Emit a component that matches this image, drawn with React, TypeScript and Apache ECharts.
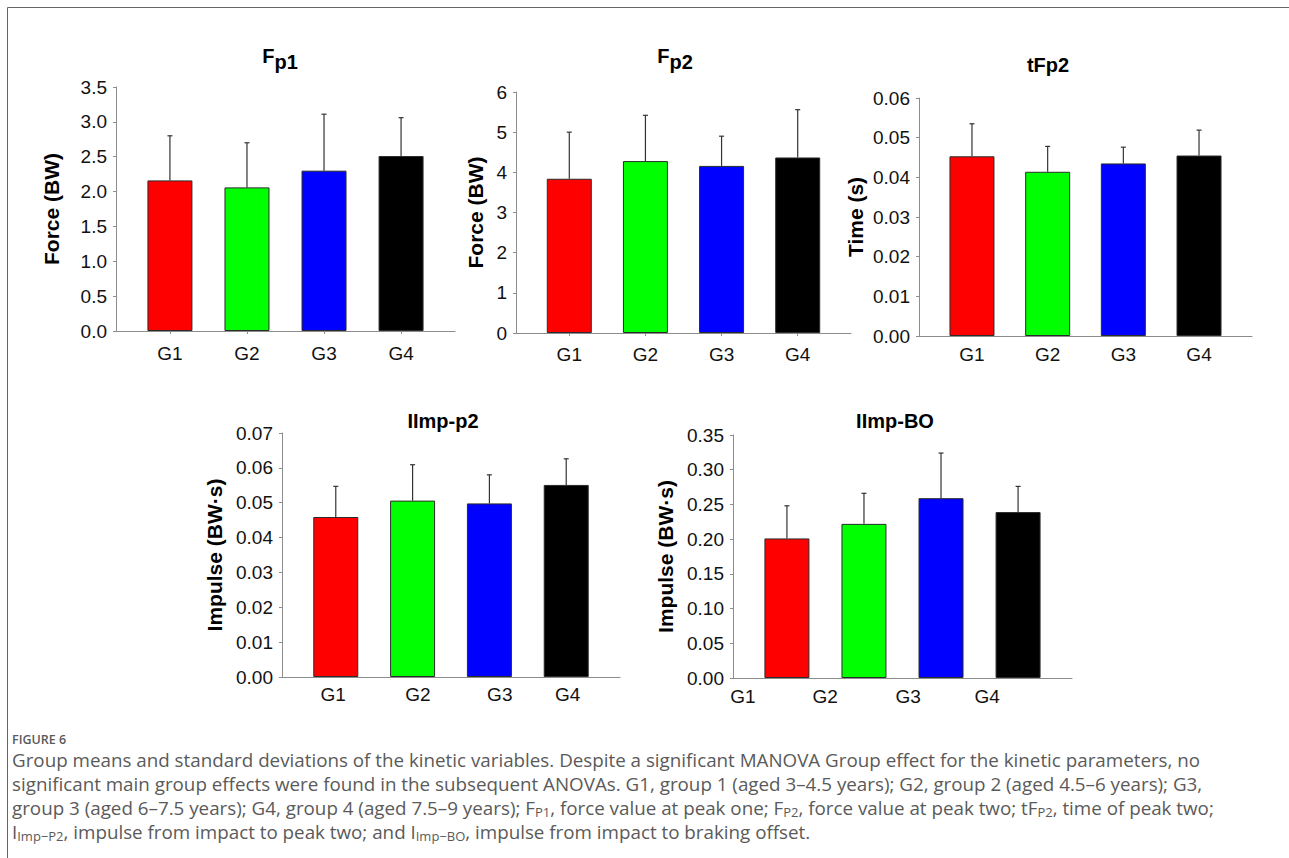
import React, { useEffect, useRef } from "react";
import * as echarts from "echarts";

// ---------- data ----------
const groups = ["G1", "G2", "G3", "G4"];
const groupX = [1, 2, 3, 4];
const barColors = ["#ff0000", "#00ff00", "#0000ff", "#000000"];

const fp1Mean = [2.16, 2.06, 2.3, 2.51];
const fp1Sd = [0.64, 0.64, 0.81, 0.55];

const fp2Mean = [3.84, 4.28, 4.16, 4.37];
const fp2Sd = [1.16, 1.14, 0.74, 1.19];

const tfp2Mean = [0.0453, 0.0414, 0.0435, 0.0455];
const tfp2Sd = [0.0082, 0.0064, 0.0041, 0.0064];

const impP2Mean = [0.0459, 0.0506, 0.0498, 0.0551];
const impP2Sd = [0.0088, 0.0103, 0.0082, 0.0075];

const impBOMean = [0.201, 0.222, 0.259, 0.239];
const impBOSd = [0.047, 0.044, 0.065, 0.037];

// label anchor values along the x axis (as printed in the figure)
const impP2LabelX = [0.966, 2.07, 3.135, 4.018];
const impBOLabelX = [0.43, 1.495, 2.573, 3.6];

const captionHead = "FIGURE 6";

// ---------- layout ----------
const FONT = "Liberation Sans, Arial, sans-serif";
const CAP_FONT = "Open Sans, sans-serif";

const panels = [
  {
    titleRich: "{a|F}{b|p1}", titleX: 280, titleY: 57,
    yName: "Force (BW)", mean: fp1Mean, sd: fp1Sd, yMax: 3.5, yStep: 0.5, dec: 1,
    grid: { left: 116, top: 87, width: 339, height: 244 }, nameGap: 54, labelMargin: 13,
    labelX: groupX, xTicks: true,
  },
  {
    titleRich: "{a|F}{b|p2}", titleX: 675, titleY: 57,
    yName: "Force (BW)", mean: fp2Mean, sd: fp2Sd, yMax: 6, yStep: 1, dec: 0,
    grid: { left: 516, top: 92, width: 335, height: 241 }, nameGap: 30, labelMargin: 12,
    labelX: groupX, xTicks: true,
  },
  {
    titleRich: "{c|tFp2}", titleX: 1048, titleY: 65,
    yName: "Time (s)", mean: tfp2Mean, sd: tfp2Sd, yMax: 0.06, yStep: 0.01, dec: 2,
    grid: { left: 919, top: 98, width: 333, height: 238 }, nameGap: 53, labelMargin: 9,
    labelX: groupX, xTicks: false,
  },
  {
    titleRich: "{c|IImp-p2}", titleX: 443, titleY: 421,
    yName: "Impulse (BW·s)", mean: impP2Mean, sd: impP2Sd, yMax: 0.07, yStep: 0.01, dec: 2,
    grid: { left: 282, top: 433, width: 338, height: 244 }, nameGap: 57, labelMargin: 8,
    labelX: impP2LabelX, xTicks: false,
  },
  {
    titleRich: "{c|IImp-BO}", titleX: 895, titleY: 421,
    yName: "Impulse (BW·s)", mean: impBOMean, sd: impBOSd, yMax: 0.35, yStep: 0.05, dec: 2,
    grid: { left: 733, top: 435, width: 339, height: 243 }, nameGap: 57, labelMargin: 9,
    labelX: impBOLabelX, xTicks: false,
  },
];

const captionLines = [
  "{n|Group means and standard deviations of the kinetic variables. Despite a significant MANOVA Group effect for the kinetic parameters, no}",
  "{n|significant main group effects were found in the subsequent ANOVAs. G1, group 1 (aged 3–4.5 years); G2, group 2 (aged 4.5–6 years); G3,}",
  "{n|group 3 (aged 6–7.5 years); G4, group 4 (aged 7.5–9 years); F}{s|P1}{n|, force value at peak one; F}{s|P2}{n|, force value at peak two; tF}{s|P2}{n|, time of peak two;}",
  "{n|I}{s|Imp−P2}{n|, impulse from impact to peak two; and I}{s|Imp−BO}{n|, impulse from impact to braking offset.}",
];

function buildOption() {
  const grids: any[] = [];
  const xAxes: any[] = [];
  const yAxes: any[] = [];
  const series: any[] = [];
  const graphics: any[] = [];

  panels.forEach((p, i) => {
    grids.push({ ...p.grid, containLabel: false });
    const labelPos = p.labelX;
    xAxes.push({
      type: "value",
      gridIndex: i,
      min: 0.3,
      max: 4.7,
      splitLine: { show: false },
      axisLine: { show: true, lineStyle: { color: "#8c8c8c", width: 1 } },
      axisTick: {
        show: p.xTicks,
        customValues: groupX,
        length: 3,
        lineStyle: { color: "#8c8c8c" },
      },
      axisLabel: {
        customValues: labelPos,
        margin: p.labelMargin,
        fontFamily: FONT,
        fontSize: 19,
        color: "#111",
        formatter: (v: number) => {
          let best = 0;
          let d = Infinity;
          labelPos.forEach((q, k) => {
            if (Math.abs(q - v) < d) {
              d = Math.abs(q - v);
              best = k;
            }
          });
          return groups[best];
        },
      },
    });
    yAxes.push({
      type: "value",
      gridIndex: i,
      min: 0,
      max: p.yMax,
      interval: p.yStep,
      name: p.yName,
      nameLocation: "middle",
      nameGap: p.nameGap,
      nameTextStyle: { fontFamily: FONT, fontSize: 21, fontWeight: "bold", color: "#000" },
      splitLine: { show: false },
      axisLine: { show: true, lineStyle: { color: "#8c8c8c", width: 1 } },
      axisTick: { show: true, length: 3, lineStyle: { color: "#8c8c8c" } },
      axisLabel: {
        margin: 9,
        fontFamily: FONT,
        fontSize: 19,
        color: "#111",
        formatter: (v: number) => v.toFixed(p.dec),
      },
    });
    series.push({
      type: "bar",
      xAxisIndex: i,
      yAxisIndex: i,
      barWidth: 45,
      data: p.mean.map((m, k) => ({
        value: [groupX[k], m],
        itemStyle: { color: barColors[k], borderColor: "#2b2b2b", borderWidth: 1 },
      })),
      z: 2,
    });
    series.push({
      type: "custom",
      xAxisIndex: i,
      yAxisIndex: i,
      encode: { x: 0, y: [1, 2] },
      data: p.mean.map((m, k) => [groupX[k], m, m + p.sd[k]]),
      z: 3,
      renderItem: (params: any, api: any) => {
        const base = api.coord([api.value(0), api.value(1)]);
        const top = api.coord([api.value(0), api.value(2)]);
        const style = { stroke: "#333", lineWidth: 1.2 };
        return {
          type: "group",
          children: [
            { type: "line", shape: { x1: base[0], y1: base[1], x2: top[0], y2: top[1] }, style },
            { type: "line", shape: { x1: top[0] - 2.5, y1: top[1], x2: top[0] + 2.5, y2: top[1] }, style },
          ],
        };
      },
    });
    graphics.push({
      type: "text",
      x: p.titleX,
      y: p.titleY,
      style: {
        text: p.titleRich,
        textAlign: "center",
        textVerticalAlign: "middle",
        rich: {
          a: { fontFamily: FONT, fontSize: 20, fontWeight: "bold", fill: "#000", verticalAlign: "top", lineHeight: 22 },
          b: { fontFamily: FONT, fontSize: 20, fontWeight: "bold", fill: "#000", verticalAlign: "top", lineHeight: 22, padding: [6, 0, 0, 0] },
          c: { fontFamily: FONT, fontSize: 20, fontWeight: "bold", fill: "#000", lineHeight: 22 },
        },
      },
    });
  });

  // frame
  graphics.push({ type: "line", shape: { x1: 7.5, y1: 7.5, x2: 7.5, y2: 858 }, style: { stroke: "#666", lineWidth: 1 } });
  graphics.push({ type: "line", shape: { x1: 7.5, y1: 7.5, x2: 1289, y2: 7.5 }, style: { stroke: "#666", lineWidth: 1 } });

  // caption
  graphics.push({
    type: "text",
    x: 12,
    y: 739,
    style: {
      text: captionHead, fontFamily: CAP_FONT, fontSize: 12.5, fontWeight: 600, fill: "#5a5a5a",
      textVerticalAlign: "middle", lineHeight: 13,
    },
  });
  captionLines.forEach((line, k) => {
    graphics.push({
      type: "text",
      x: 12,
      y: 760 + k * 24,
      style: {
        text: line,
        textVerticalAlign: "middle",
        rich: {
          n: { fontFamily: CAP_FONT, fontSize: 18.8, fill: "#5a5a5a", lineHeight: 20, verticalAlign: "top" },
          s: { fontFamily: CAP_FONT, fontSize: 13, fill: "#5a5a5a", lineHeight: 13, verticalAlign: "top", padding: [7, 0, 0, 0] },
        },
      },
    });
  });

  return {
    animation: false,
    backgroundColor: "#ffffff",
    grid: grids,
    xAxis: xAxes,
    yAxis: yAxes,
    series,
    graphic: graphics,
  };
}

export default function App() {
  const ref = useRef<HTMLDivElement>(null);
  useEffect(() => {
    if (!ref.current) return;
    const chart = echarts.init(ref.current, null, { renderer: "svg" });
    chart.setOption(buildOption() as any);
    return () => chart.dispose();
  }, []);
  return (
    <div
      ref={ref}
      style={{ position: "fixed", left: 0, top: 0, width: 1289, height: 858, background: "#fff" }}
    />
  );
}
